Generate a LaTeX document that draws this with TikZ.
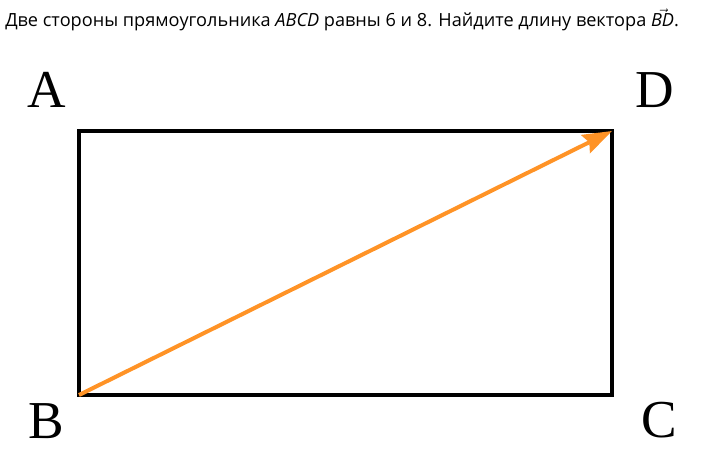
\documentclass[tikz,border=0pt]{standalone}
\usepackage{fontspec}
\setmainfont{Open Sans}
\newfontfamily\labelfont{Liberation Serif}
\usetikzlibrary{arrows.meta}
\definecolor{vectorOrange}{HTML}{FF9326}

\begin{document}
\begin{tikzpicture}
[x=0.75pt,y=-0.75pt,
  sideDecorate/.style={draw,line width=2.4pt,line join=miter},%
  vectorDecorate/.style={-{Stealth[length=22pt,width=15pt,inset=3pt]},line width=3pt,draw=vectorOrange},%
  labelDecorate/.style={font=\labelfont\fontsize{40}{40}\selectfont,inner sep=0pt,anchor=base}]
\useasboundingbox (0,0) rectangle (705,453);
%% task text
\node (task) at (5,27) [anchor=base west,inner sep=0pt,font=\fontsize{13.6}{15}\selectfont]
  {Две стороны прямоугольника \textit{ABCD} равны 6 и 8. Найдите длину вектора $\vec{\mbox{\textit{BD}}}$.};
%% corners and their letters
\foreach \nodename/\x/\y/\lx/\ly in {A/79/131/47/107, B/79/395/46/438, C/612/395/659/437, D/612/131/655/107}
{
  \coordinate (\nodename) at (\x,\y);
  \node (label\nodename) at (\lx,\ly) [labelDecorate] {\nodename};
}
%% sides
\path[sideDecorate] (A) -- (B) -- (C) -- (D) -- cycle;
%% vector
\path[vectorDecorate] (B) -- (D);
\end{tikzpicture}
\end{document}
